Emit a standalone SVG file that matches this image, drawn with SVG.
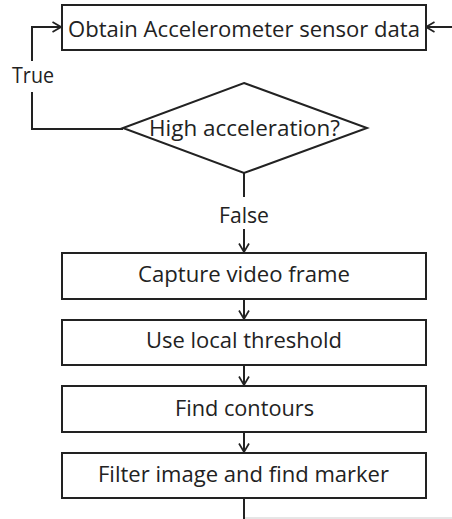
<svg xmlns="http://www.w3.org/2000/svg" width="452" height="519" viewBox="0 0 452 519">
<style>
.box{fill:#fff;stroke:#222;stroke-width:2}
.ln{fill:none;stroke:#222;stroke-width:2}
.t{font-family:"Open Sans","Liberation Sans",sans-serif;font-size:22.5px;fill:#222}
</style>
<defs>
<marker id="ah" viewBox="0 0 10 12" refX="9.5" refY="6" markerWidth="10" markerHeight="12" markerUnits="userSpaceOnUse" orient="auto">
<path d="M1,1 L9.5,6 L1,11" fill="none" stroke="#222" stroke-width="1.7"/>
</marker>
</defs>
<rect width="452" height="519" fill="#fff"/>
<g id="connectors">
<path class="ln" d="M32,61 V27 H61" marker-end="url(#ah)"/>
<path class="ln" d="M123,129 H32 V92"/>
<path class="ln" d="M452,27 H426" marker-end="url(#ah)"/>
<path class="ln" d="M244,173 V197"/>
<path class="ln" d="M244,229 V252" marker-end="url(#ah)"/>
<path class="ln" d="M244,299 V319" marker-end="url(#ah)"/>
<path class="ln" d="M244,365 V385" marker-end="url(#ah)"/>
<path class="ln" d="M244,432 V452" marker-end="url(#ah)"/>
<path class="ln" d="M244,498 V519"/>
<path d="M245,518 H452" fill="none" stroke="#ccc" stroke-width="1"/>
<text class="t" x="33" y="83" text-anchor="middle" textLength="42" lengthAdjust="spacingAndGlyphs">True</text>
<text class="t" x="244" y="223" text-anchor="middle" textLength="50" lengthAdjust="spacingAndGlyphs">False</text>
</g>
<g id="n1">
<rect class="box" x="62" y="5" width="364" height="45"/>
<text class="t" x="244" y="37" text-anchor="middle" textLength="352" lengthAdjust="spacingAndGlyphs">Obtain Accelerometer sensor data</text>
</g>
<g id="n2">
<polygon class="box" points="244,83 367,128 244,173 123,128"/>
<text class="t" x="244.5" y="136" text-anchor="middle" textLength="191" lengthAdjust="spacingAndGlyphs">High acceleration?</text>
</g>
<g id="n3">
<rect class="box" x="62" y="253" width="364" height="46"/>
<text class="t" x="244" y="282" text-anchor="middle" textLength="212" lengthAdjust="spacingAndGlyphs">Capture video frame</text>
</g>
<g id="n4">
<rect class="box" x="62" y="320" width="364" height="45"/>
<text class="t" x="244" y="348" text-anchor="middle" textLength="196" lengthAdjust="spacingAndGlyphs">Use local threshold</text>
</g>
<g id="n5">
<rect class="box" x="62" y="386" width="364" height="46"/>
<text class="t" x="244.5" y="416" text-anchor="middle" textLength="139" lengthAdjust="spacingAndGlyphs">Find contours</text>
</g>
<g id="n6">
<rect class="box" x="62" y="453" width="364" height="45"/>
<text class="t" x="243.5" y="482" text-anchor="middle" textLength="291" lengthAdjust="spacingAndGlyphs">Filter image and find marker</text>
</g>
</svg>
